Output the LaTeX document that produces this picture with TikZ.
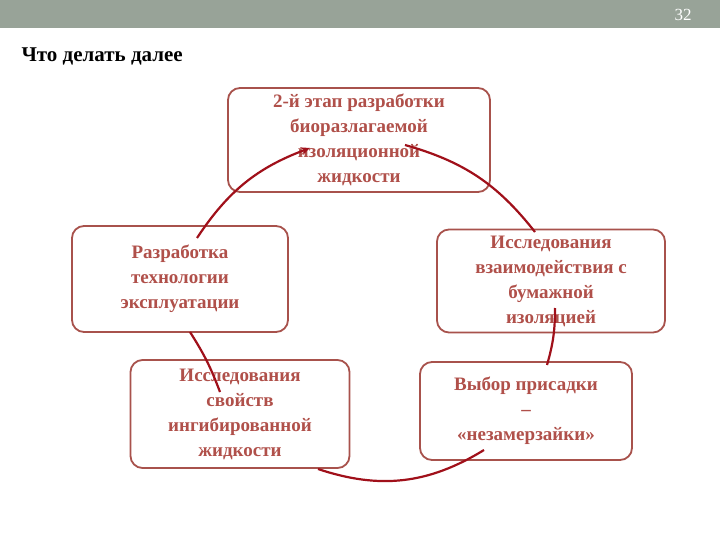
\documentclass[tikz,border=0pt]{standalone}
\usepackage{fontspec}
\setmainfont{Liberation Serif}
\usetikzlibrary{arrows.meta}
\begin{document}
\begin{tikzpicture}[x=1pt,y=-1pt,
 box/.style={draw=boxc,line width=1.8pt,rounded corners=12pt,fill=white,align=center,text=txtc,font=\bfseries\fontsize{19}{25}\selectfont,inner sep=0pt},
 arc/.style={draw=arcc,line width=2.2pt}]
\definecolor{boxc}{HTML}{A8524C}\definecolor{txtc}{HTML}{B0504A}\definecolor{arcc}{HTML}{A0101A}
\definecolor{barc}{HTML}{98A398}
\useasboundingbox (0,0) rectangle (720,540);
\fill[white] (0,0) rectangle (720,540);
\fill[barc] (0,0) rectangle (720,28);
\node[text=white,font=\fontsize{17}{20}\selectfont] (num) at (683,15) {32};
\node[anchor=west,font=\bfseries\fontsize{21}{24}\selectfont] (title) at (18,56) {Что делать далее};
\node[box,minimum width=262,minimum height=104] (t) at (359,140) {2-й этап разработки\\биоразлагаемой\\изоляционной\\жидкости};
\node[box,minimum width=216,minimum height=106] (l) at (180,279) {Разработка\\технологии\\эксплуатации};
\node[box,minimum width=228,minimum height=103] (r) at (551,281) {Исследования\\взаимодействия с\\бумажной\\изоляцией};
\node[box,minimum width=219,minimum height=108] (bl) at (240,414) {Исследования\\свойств\\ингибированной\\жидкости};
\node[box,minimum width=212,minimum height=98] (br) at (526,411) {Выбор присадки\\–\\«незамерзайки»};
\coordinate (a1) at (197,238); \coordinate (a2) at (310,148);
\draw[arc,-{Stealth[length=9pt,width=8pt]}] (a1) to[bend left=18] (a2);
\coordinate (b1) at (405,145); \coordinate (b2) at (535,232);
\draw[arc] (b1) to[bend left=18] (b2);
\coordinate (c1) at (555,308); \coordinate (c2) at (547,365);
\draw[arc] (c1) to[bend left=8] (c2);
\coordinate (d1) at (484,450); \coordinate (d2) at (318,469);
\draw[arc] (d1) to[bend left=25] (d2);
\coordinate (e1) at (190,332); \coordinate (e2) at (220,392);
\draw[arc] (e1) to[bend left=6] (e2);
\end{tikzpicture}
\end{document}
